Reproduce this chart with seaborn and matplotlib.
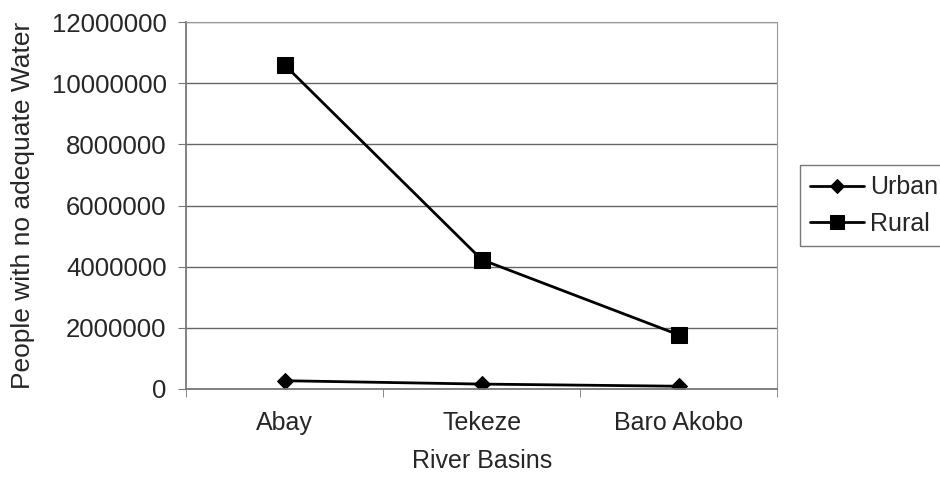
import pandas as pd
import seaborn as sns
import matplotlib.pyplot as plt

basins = ['Abay', 'Tekeze', 'Baro Akobo']
urban = [270000, 160000, 90000]
rural = [10600000, 4230000, 1770000]

df = pd.DataFrame({'basin': basins * 2,
                   'people': urban + rural,
                   'area': ['Urban'] * 3 + ['Rural'] * 3})

sns.set_style('white')
plt.rcParams['font.family'] = ['Liberation Sans', 'DejaVu Sans']

fig = plt.figure(figsize=(9.4, 4.82), dpi=100)
ax = fig.add_axes([0.198, 0.193, 0.629, 0.761])

sns.lineplot(data=df, x='basin', y='people', hue='area', style='area',
             palette=['black', 'black'], markers={'Urban': 'D', 'Rural': 's'},
             dashes=False, linewidth=2, markeredgecolor='black',
             sort=False, ax=ax)
# diamonds a bit smaller than squares, like the Excel original
for ln in ax.lines:
    if ln.get_marker() == 'D':
        ln.set_markersize(8.5)
    elif ln.get_marker() == 's':
        ln.set_markersize(11.5)

ax.set_xlim(-0.5, 2.5)
ax.set_ylim(0, 12000000)
ax.set_yticks(range(0, 12000001, 2000000))
ax.set_yticklabels([str(v) for v in range(0, 12000001, 2000000)])
ax.yaxis.grid(True, color='#666666', linewidth=1)
ax.set_axisbelow(True)
ax.set_xticks([0, 1, 2])
ax.set_xticks([-0.5, 0.5, 1.5, 2.5], minor=True)
ax.tick_params(axis='x', which='major', length=0, labelsize=18, pad=16)
ax.tick_params(axis='x', which='minor', length=6, color='#777777', direction='out', bottom=True)
ax.tick_params(axis='y', length=6, color='#777777', direction='out', left=True,
               labelsize=18.5, pad=8)
for s in ['top', 'right']:
    ax.spines[s].set_color('#999999')
for s in ['left', 'bottom']:
    ax.spines[s].set_color('#777777')
    ax.spines[s].set_linewidth(1.3)

ax.set_xlabel('River Basins', fontsize=18, labelpad=10)
ax.set_ylabel('People with no adequate Water', fontsize=19, labelpad=12)

leg = ax.legend(title=None, loc='center left', bbox_to_anchor=(1.039, 0.50),
                fontsize=18, frameon=True, fancybox=False, borderpad=0.4,
                borderaxespad=0, handlelength=2.15, handletextpad=0.24,
                labelspacing=0.5)
leg.get_frame().set_edgecolor('#555555')
leg.get_frame().set_linewidth(1)
for h in leg.legend_handles:
    if h.get_marker() == 'D':
        h.set_markersize(7.5)
    else:
        h.set_markersize(10)

fig.savefig('out.png', dpi=100)
